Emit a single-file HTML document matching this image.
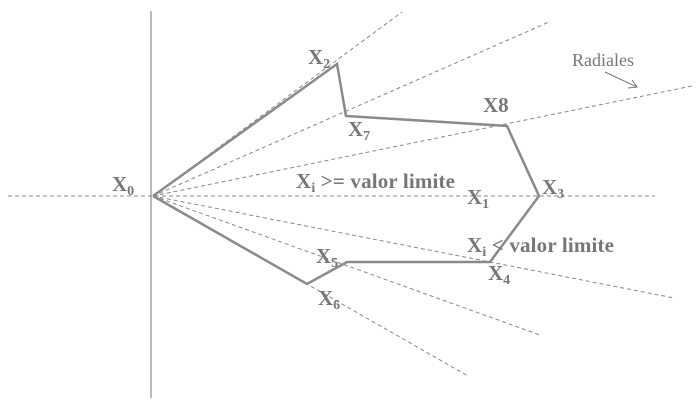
<!DOCTYPE html>
<html><head><meta charset="utf-8"><style>
html,body{margin:0;padding:0;background:#fff;}
svg{display:block;}
.t{font-family:"Liberation Serif",serif;font-weight:bold;fill:#777;font-size:21px;}
.s{font-size:14px;}
</style></head><body>
<svg width="698" height="414" viewBox="0 0 698 414" xmlns="http://www.w3.org/2000/svg">
<line x1="151" y1="11" x2="151" y2="398" stroke="#777" stroke-width="1"/>
<g stroke="#888" stroke-width="1" stroke-dasharray="4,3" fill="none">
<line x1="8" y1="196" x2="655" y2="196"/>
<line x1="153" y1="196" x2="402" y2="12"/>
<line x1="153" y1="196" x2="549" y2="22"/>
<line x1="153" y1="196" x2="692" y2="86"/>
<line x1="153" y1="196" x2="674" y2="298"/>
<line x1="153" y1="196" x2="540" y2="335"/>
<line x1="153" y1="196" x2="468" y2="376"/>
</g>
<polyline points="153,196 337,64 346,116 507,126 539,196 490,262 347,262 307,284 153,196" fill="none" stroke="#8a8a8a" stroke-width="2.5" stroke-linejoin="miter"/>
<line x1="605" y1="72" x2="637" y2="87" stroke="#777" stroke-width="1"/>
<polyline points="628,88 637,87 632,80" fill="none" stroke="#777" stroke-width="1"/>
<text x="572" y="66" font-family="Liberation Serif,serif" font-size="18" fill="#777">Radiales</text>
<text class="t" x="112" y="191">X<tspan class="s" dy="4">0</tspan></text>
<text class="t" x="308" y="64">X<tspan class="s" dy="4">2</tspan></text>
<text class="t" x="348" y="136">X<tspan class="s" dy="4">7</tspan></text>
<text class="t" x="483" y="112">X8</text>
<text class="t" x="296" y="188" textLength="159">X<tspan class="s" dy="4">i</tspan><tspan dy="-4"> &gt;= valor limite</tspan></text>
<text class="t" x="467" y="204">X<tspan class="s" dy="4">1</tspan></text>
<text class="t" x="542" y="194">X<tspan class="s" dy="4">3</tspan></text>
<text class="t" x="467" y="252" textLength="147">X<tspan class="s" dy="4">i</tspan><tspan dy="-4"> &lt; valor limite</tspan></text>
<text class="t" x="488" y="280">X<tspan class="s" dy="4">4</tspan></text>
<text class="t" x="316" y="263">X<tspan class="s" dy="4">5</tspan></text>
<text class="t" x="318" y="305">X<tspan class="s" dy="4">6</tspan></text>
</svg>
</body></html>
